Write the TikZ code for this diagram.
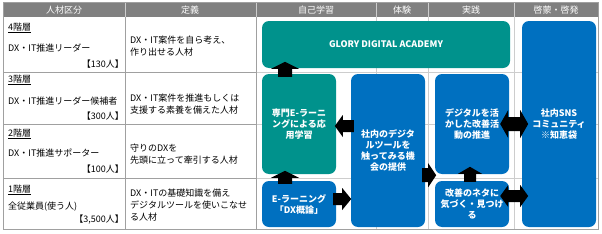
\documentclass[tikz,border=0pt]{standalone}
\usepackage{fontspec}
\setmainfont{Noto Sans CJK JP}
\usetikzlibrary{calc}
\definecolor{teal1}{RGB}{0,146,140}
\definecolor{blue1}{RGB}{0,112,192}
\definecolor{hdr}{RGB}{128,128,128}
\definecolor{gridd}{RGB}{160,160,160}
\definecolor{gridl}{RGB}{205,205,205}
\begin{document}
\begin{tikzpicture}[x=1pt,y=-1pt,
  box/.style={rounded corners=7pt, text=white, font=\bfseries\fontsize{9}{11}\selectfont, align=center, inner sep=0pt},
  tealbox/.style={box, fill=teal1},
  bluebox/.style={box, fill=blue1},
  hdrtext/.style={text=white, font=\fontsize{9}{11}\selectfont, inner sep=0pt},
  celltext/.style={font=\fontsize{9}{12}\selectfont, inner sep=0pt, align=left},
  blk/.style={fill=black}]
\useasboundingbox (0,0) rectangle (602,233);
% header band
\fill[hdr] (3,2) rectangle (598,17);
\foreach \xx in {125,256,376,428,514} \draw[gridl] (\xx,2) -- (\xx,17);
% grid lines right area (light)
\foreach \yy in {72,124,178} \draw[gridl] (256,\yy) -- (598,\yy);
\foreach \xx in {376,428,514} \draw[gridl] (\xx,17) -- (\xx,229);
% grid lines left table
\foreach \yy in {72,124,178} \draw[gridd] (3,\yy) -- (256,\yy);
\draw[gridd] (125,17) -- (125,229);
\draw[gridd] (256,17) -- (256,229);
\draw[gridd] (3,2) rectangle (598,229);
% header texts
\node[hdrtext] (h1) at (64,10) {人材区分};
\node[hdrtext] (h2) at (190,10) {定義};
\node[hdrtext] (h3) at (316,10) {自己学習};
\node[hdrtext] (h4) at (402,10) {体験};
\node[hdrtext] (h5) at (471,10) {実践};
\node[hdrtext] (h6) at (556,10) {啓蒙・啓発};
% row 4
\node[celltext, anchor=west] (r4a) at (8,28) {\underline{4階層}};
\node[celltext, anchor=west] (r4b) at (8,48) {DX・IT推進リーダー};
\node[celltext, anchor=east] (r4c) at (124,64) {【130人】};
\node[celltext, anchor=west] (d4) at (130,46) {DX・IT案件を自ら考え、\\作り出せる人材};
% row 3
\node[celltext, anchor=west] (r3a) at (8,80) {\underline{3階層}};
\node[celltext, anchor=west] (r3b) at (8,101) {DX・IT推進リーダー候補者};
\node[celltext, anchor=east] (r3c) at (124,116) {【300人】};
\node[celltext, anchor=west] (d3) at (130,104) {DX・IT案件を推進もしくは\\支援する素養を備えた人材};
% row 2
\node[celltext, anchor=west] (r2a) at (8,134) {\underline{2階層}};
\node[celltext, anchor=west] (r2b) at (8,153) {DX・IT推進サポーター};
\node[celltext, anchor=east] (r2c) at (124,169) {【100人】};
\node[celltext, anchor=west] (d2) at (130,154) {守りのDXを\\先頭に立って牽引する人材};
% row 1
\node[celltext, anchor=west] (r1a) at (8,190) {\underline{1階層}};
\node[celltext, anchor=west] (r1b) at (8,207) {全従業員(使う人)};
\node[celltext, anchor=east] (r1c) at (124,220) {【3,500人】};
\node[celltext, anchor=west] (d1) at (130,205) {DX・ITの基礎知識を備え\\デジタルツールを使いこなせ\\る人材};
% boxes
\node[tealbox, minimum width=248pt, minimum height=47pt] (glory) at (386,44.5) {GLORY DIGITAL ACADEMY};
\node[bluebox, minimum width=74pt, minimum height=206pt] (sns) at (559,124) {社内SNS\\コミュニティ\\※知恵袋};
\node[tealbox, minimum width=74pt, minimum height=100pt] (senmon) at (299,124) {専門E-ラーニ\\ングによる応\\用学習};
\node[bluebox, minimum width=74pt, minimum height=46pt] (elearn) at (299,204) {E-ラーニング\\「DX概論」};
\node[bluebox, minimum width=74pt, minimum height=153pt] (shanai) at (388,150.5) {社内のデジタ\\ルツールを\\触ってみる機\\会の提供};
\node[bluebox, minimum width=74pt, minimum height=100pt] (katsuyo) at (472,124) {デジタルを活\\かした改善活\\動の推進};
\node[bluebox, minimum width=74pt, minimum height=46pt] (neta) at (472,204) {改善のネタに\\気づく・見つけ\\る};
% arrows
\fill[blk] ($(senmon.north)+(-21,3)$) -- ++(0,-8) -- ++(-7,0) -- ++(14,-7) -- ++(14,7) -- ++(-7,0) -- ++(0,8) -- cycle;
\fill[blk] ($(elearn.north)+(-21,3)$) -- ++(0,-6) -- ++(-7,0) -- ++(14,-7) -- ++(14,7) -- ++(-7,0) -- ++(0,6) -- cycle;
\fill[blk] ($(neta.north)+(-8,1)$) -- ++(0,-8) -- ++(-6,0) -- ++(12,-7) -- ++(12,7) -- ++(-6,0) -- ++(0,8) -- cycle;
\fill[blk] ($(shanai.west |- senmon.east)+(3,-4)$) -- ++(-11,0) -- ++(0,-5) -- ++(-8,11) -- ++(8,11) -- ++(0,-5) -- ++(11,0) -- cycle;
\fill[blk] ($(elearn.east)+(-3,-11)$) -- ++(9,0) -- ++(0,-5) -- ++(9,11) -- ++(-9,11) -- ++(0,-5) -- ++(-9,0) -- cycle;
\fill[blk] ($(shanai.east |- katsuyo.south)+(-3,-6)$) -- ++(6,0) -- ++(0,-5) -- ++(8,12) -- ++(-8,12) -- ++(0,-5) -- ++(-6,0) -- cycle;
\fill[blk] ($(katsuyo.east)+(-9,0)$) -- ++(8,-14) -- ++(0,7) -- ++(12,0) -- ++(0,-7) -- ++(8,14) -- ++(-8,14) -- ++(0,-7) -- ++(-12,0) -- ++(0,7) -- cycle;
\fill[blk] ($(neta.east)+(-9,-8)$) -- ++(8,-11) -- ++(0,5) -- ++(12,0) -- ++(0,-5) -- ++(8,11) -- ++(-8,11) -- ++(0,-5) -- ++(-12,0) -- ++(0,5) -- cycle;
\end{tikzpicture}
\end{document}
